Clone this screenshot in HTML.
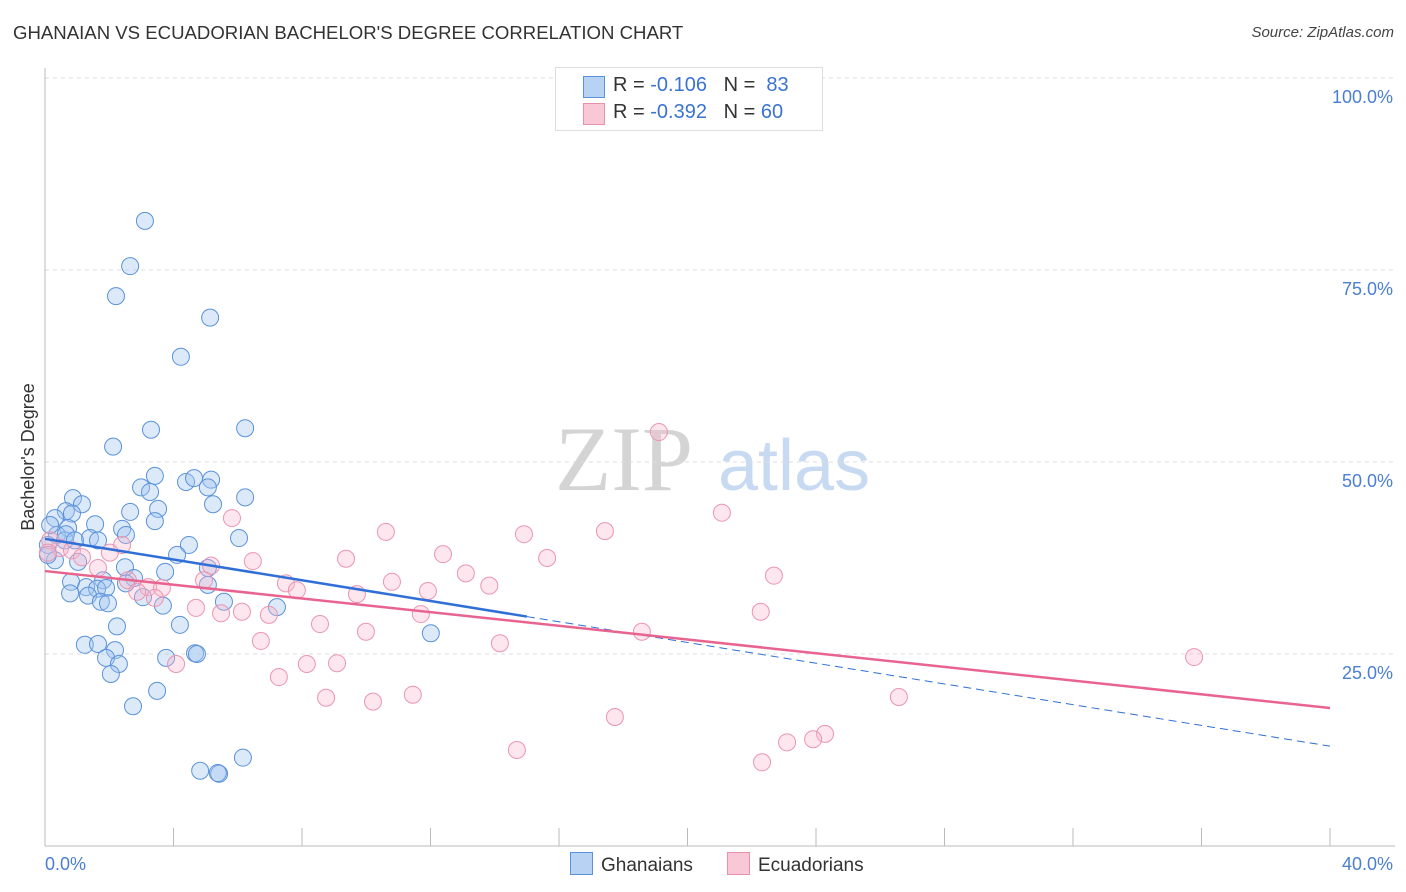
<!DOCTYPE html>
<html><head><meta charset="utf-8"><style>
body{margin:0;background:#fff;font-family:"Liberation Sans",sans-serif;}
#wrap{position:relative;width:1406px;height:892px;overflow:hidden}
.t{position:absolute;white-space:nowrap}
</style></head><body>
<div id="wrap">
<div class="t" style="left:13px;top:22px;font-size:18.6px;color:#333">GHANAIAN VS ECUADORIAN BACHELOR'S DEGREE CORRELATION CHART</div>
<div class="t" style="right:12px;top:24px;font-size:15px;color:#444;font-style:italic">Source: ZipAtlas.com</div>
<svg id="svg" width="1406" height="892" style="position:absolute;left:0;top:0"></svg>
</div>
<script>
const yTicks=[100,75,50,25];
const yTickLabels=["100.0%","75.0%","50.0%","25.0%"];
const blueX=[3.11,2.65,2.21,5.14,4.23,3.30,6.23,2.12,3.42,2.99,3.27,4.39,4.64,5.17,5.07,6.23,0.87,1.15,3.52,5.23,0.65,0.84,0.31,2.65,3.42,1.56,0.72,2.40,0.37,1.40,1.65,2.52,6.04,0.09,0.62,4.48,4.11,0.31,1.03,2.49,3.74,5.07,0.81,1.81,2.77,2.52,1.28,1.62,1.90,5.07,0.78,1.34,1.74,1.96,3.05,3.67,5.57,7.22,2.24,4.20,12.01,1.24,1.65,2.18,4.67,4.73,3.77,1.90,2.30,2.05,3.49,2.74,6.16,4.83,5.42,5.38,0.65,0.16,0.09,0.93];
const blueY=[81.4,75.5,71.6,68.8,63.7,54.2,54.4,52.0,48.2,46.7,46.1,47.4,47.9,47.7,46.7,45.4,45.3,44.5,43.9,44.5,43.6,43.3,42.7,43.5,42.3,41.9,41.4,41.3,40.5,40.1,39.8,40.5,40.1,39.2,39.8,39.2,37.9,37.2,37.0,36.3,35.7,36.2,34.4,34.6,34.9,34.2,33.7,33.5,33.6,34.0,32.9,32.6,31.8,31.6,32.4,31.3,31.8,31.1,28.6,28.8,27.7,26.2,26.3,25.5,25.1,25.0,24.5,24.5,23.7,22.4,20.2,18.2,11.5,9.8,9.4,9.5,40.6,41.8,37.9,39.8];
const pinkX=[19.11,21.07,5.82,17.43,10.61,14.91,2.40,0.47,12.39,2.02,15.63,9.37,6.47,5.17,1.65,13.10,22.69,13.83,10.80,7.50,4.95,2.58,3.21,3.64,11.92,7.84,9.71,2.87,3.42,4.70,5.48,6.13,6.97,11.70,22.28,8.56,9.99,18.58,6.72,14.16,35.77,4.08,8.15,9.09,7.28,8.75,11.45,10.21,26.58,17.74,24.28,23.91,23.10,14.69,22.32,0.16,0.09,0.84,1.15];
const pinkY=[53.9,43.4,42.7,41.0,40.9,40.6,39.2,38.8,38.0,38.2,37.5,37.4,37.1,36.5,36.2,35.5,35.2,33.9,34.4,34.2,34.6,34.6,33.7,33.6,33.2,33.3,32.8,33.1,32.3,31.0,30.3,30.5,30.1,30.2,30.5,28.9,27.9,27.9,26.7,26.4,24.6,23.7,23.7,23.8,22.0,19.3,19.7,18.8,19.4,16.8,14.6,13.9,13.5,12.5,10.9,39.8,38.2,38.5,37.6];
const blueLine=[40.0,13.0];
const pinkLine=[35.8,17.97];
const blueSolidEnd=15;

const X=v=>45+v/40*1285, Y=v=>846-v/100*768;
const svg=document.getElementById('svg');
const NS='http://www.w3.org/2000/svg';
function mk(t,a){const e=document.createElementNS(NS,t);for(const k in a)e.setAttribute(k,a[k]);svg.appendChild(e);return e;}
let w=mk('text',{x:555,y:490,'font-size':92,'font-family':'Liberation Serif',fill:'#d4d4d4'});w.textContent='ZIP';


let w2=mk('text',{x:718,y:490,'font-size':72,'font-family':'Liberation Sans',fill:'#c8daf1'});w2.textContent='atlas';


yTicks.forEach((v,i)=>{
 const g=mk('line',{x1:45,x2:1395,y1:Y(v),y2:Y(v),stroke:'#ddd','stroke-dasharray':'4,4'});
 
 
 const t=mk('text',{x:1393,y:Y(v)+25,'text-anchor':'end','font-size':18,fill:'#4a7fd0'});t.textContent=yTickLabels[i];
 
 
});
mk('line',{x1:45,x2:45,y1:68,y2:846,stroke:'#bbb'});
mk('line',{x1:45,x2:1395,y1:846,y2:846,stroke:'#bbb'});
for(let v=0;v<=40;v+=4){const l=mk('line',{x1:X(v),x2:X(v),y1:828,y2:846,stroke:'#bbb'});
 
 }
let xl=mk('text',{x:45,y:870,'font-size':18,fill:'#4a7fd0'});xl.textContent='0.0%';

let xr=mk('text',{x:1393,y:870,'font-size':18,fill:'#4a7fd0','text-anchor':'end'});xr.textContent='40.0%';

let yt=mk('text',{x:34,y:457,'font-size':18,fill:'#333','text-anchor':'middle',transform:'rotate(-90 34 457)'});yt.textContent="Bachelor's Degree";


function dots(xs,ys,fill,stroke,name){xs.forEach((x,i)=>{const c=mk('circle',{cx:X(x),cy:Y(ys[i]),r:8.5,fill:fill,stroke:stroke,'stroke-width':1});
 
 });}
dots(blueX,blueY,'rgba(160,196,240,0.38)','#5b92da','ghanaian-point');
dots(pinkX,pinkY,'rgba(248,182,204,0.35)','#eb95b1','ecuadorian-point');
const by=x=>blueLine[0]+(blueLine[1]-blueLine[0])*x/40;
const py=x=>pinkLine[0]+(pinkLine[1]-pinkLine[0])*x/40;
let l1=mk('line',{x1:X(0),y1:Y(by(0)),x2:X(blueSolidEnd),y2:Y(by(blueSolidEnd)),stroke:'#2f6fd6','stroke-width':2.5});

let l2=mk('line',{x1:X(blueSolidEnd),y1:Y(by(blueSolidEnd)),x2:X(40),y2:Y(by(40)),stroke:'#2f6fd6','stroke-width':1,'stroke-dasharray':'8,5'});

let l3=mk('line',{x1:X(0),y1:Y(py(0)),x2:X(40),y2:Y(py(40)),stroke:'#e8648f','stroke-width':2.5});

</script>
<div class="t" style="left:555px;top:67px;width:266px;height:62px;border:1px solid #ddd;background:#fff;font-size:20px;color:#333">
 <div style="position:absolute;left:27px;top:8px;width:20px;height:20px;background:#b8d2f4;border:1px solid #5a90dc"></div>
 <div style="position:absolute;left:57px;top:6px">R = <span style="color:#3a74d0">-0.106</span>&nbsp;&nbsp;&nbsp;N = <span style="color:#3a74d0">&nbsp;83</span></div>
 <div style="position:absolute;left:27px;top:35px;width:20px;height:20px;background:#f9c8d6;border:1px solid #e890ac"></div>
 <div style="position:absolute;left:57px;top:33px">R = <span style="color:#3a74d0">-0.392</span>&nbsp;&nbsp;&nbsp;N = <span style="color:#3a74d0">60</span></div>
</div>
<div class="t" style="left:570px;top:852px;font-size:19px;color:#333">
 <span style="display:inline-block;width:21px;height:21px;background:#b8d2f4;border:1px solid #5a90dc;vertical-align:-4px;margin-right:8px"></span>Ghanaians</div>
<div class="t" style="left:727px;top:852px;font-size:19px;color:#333">
 <span style="display:inline-block;width:21px;height:21px;background:#f9c8d6;border:1px solid #e890ac;vertical-align:-4px;margin-right:8px"></span>Ecuadorians</div>
</body></html>
